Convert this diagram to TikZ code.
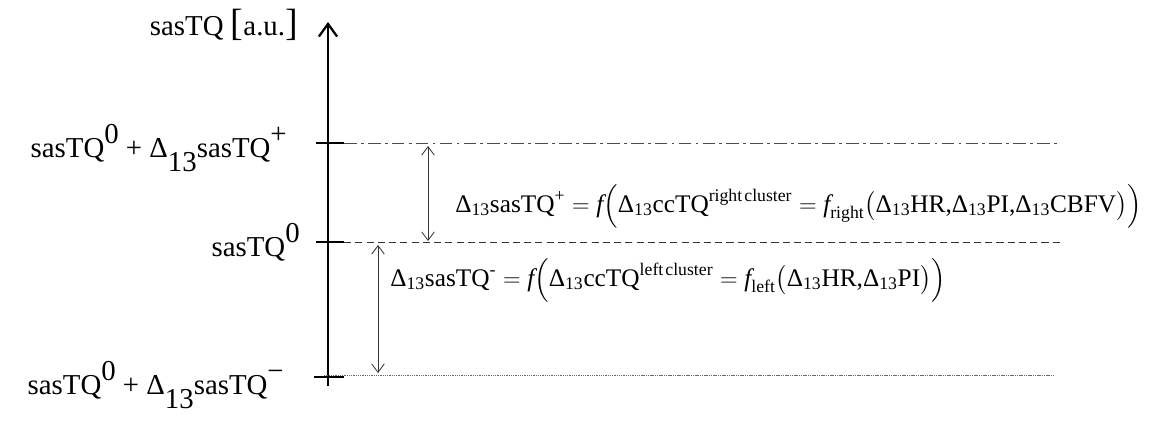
\documentclass[tikz,border=0pt]{standalone}
\usepackage{amsmath}
\usepackage{fontspec}
\setmainfont{Liberation Serif}
\usetikzlibrary{arrows.meta}
\newcommand{\dl}{\text{Δ}}
\newcommand{\cm}{\text{,}}
\newcommand{\upr}[1]{\raisebox{0.47em}{#1}}
\newcommand{\dnr}[1]{\raisebox{-0.5em}{#1}}
\newcommand{\bigbr}[1]{{\fontsize{27}{27}\selectfont #1}}

\begin{document}
\begin{tikzpicture}[x=0.025cm, y=-0.025cm,
  every node/.style={font=\fontsize{20.5}{25}\selectfont, inner sep=0pt},
  lab/.style={anchor=base east},
  eqn/.style={font=\fontsize{18}{22}\selectfont, anchor=west},
  tick/.style={line width=1.6pt},
  dimarrow/.style={<->, >={Straight Barb[length=6pt,width=9pt]}, line width=0.6pt, black!80}]
  \useasboundingbox (0,0) rectangle (1174,436);
  % axis and ticks
  \coordinate (bot) at (328,386);
  \coordinate (top) at (328,22);
  \draw[line width=1.6pt, ->, >={Straight Barb[length=9pt,width=13pt,line width=1.6pt]}] (bot) -- (top);
  \draw[tick] (316,143) -- (344,143);
  \draw[tick] (316,242) -- (344,242);
  \draw[tick] (314,377) -- (344,377);
  % level lines
  \coordinate (Pe) at (1058,143);
  \coordinate (Ze) at (1063,242);
  \coordinate (Me) at (1055,375);
  \draw[black!70, line width=0.7pt, dash pattern=on 9pt off 3pt on 2pt off 3pt] (344,143) -- (Pe);
  \draw[black!80, line width=0.7pt, dash pattern=on 5pt off 3pt] (344,242) -- (Ze);
  \draw[black!60, line width=0.6pt, dash pattern=on 1pt off 0.6pt] (324,375) -- (Me);
  % labels
  \node[lab] (ylab) at (298,35) {sasTQ \bigbr{[}a.u.\bigbr{]}};
  \node[lab] (lp) at (287,157) {sasTQ\upr{0} + Δ\dnr{13}sasTQ\upr{+}};
  \node[lab] (lz) at (300,256) {sasTQ\upr{0}};
  \node[lab] (lm) at (284,394) {sasTQ\upr{0} + Δ\dnr{13}sasTQ\upr{−}};
  % difference arrows
  \coordinate (a1) at (428,146);
  \coordinate (a2) at (428,241);
  \coordinate (b1) at (378,245);
  \coordinate (b2) at (378,373);
  \draw[dimarrow] (a1) -- (a2);
  \draw[dimarrow] (b1) -- (b2);
  % equations
  \node[eqn] (eqp) at (455,206) {$\dl_{\text{13}}\text{sasTQ}^{\text{+}}=\textit{f}\Bigl(\dl_{\text{13}}\text{ccTQ}^{\text{right\hspace{0.12em}cluster}}=\textit{f}_{\text{right}}\bigl(\dl_{\text{13}}\text{HR}\cm\dl_{\text{13}}\text{PI}\cm\dl_{\text{13}}\text{CBFV}\bigr)\Bigr)$};
  \node[eqn] (eqm) at (390,280) {$\dl_{\text{13}}\text{sasTQ}^{\text{-}}=\textit{f}\Bigl(\dl_{\text{13}}\text{ccTQ}^{\text{left\hspace{0.12em}cluster}}=\textit{f}_{\text{left}}\bigl(\dl_{\text{13}}\text{HR}\cm\dl_{\text{13}}\text{PI}\bigr)\Bigr)$};
\end{tikzpicture}
\end{document}
